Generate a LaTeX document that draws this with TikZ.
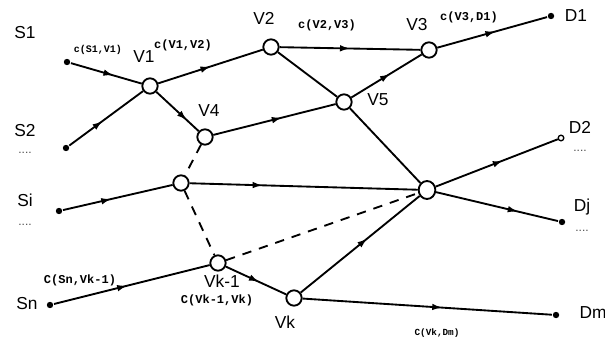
\documentclass[tikz,border=0pt]{standalone}
\usepackage{fontspec}
\setmainfont{Liberation Sans}
\newfontfamily\costfont{Liberation Mono}
\usetikzlibrary{arrows.meta,decorations.markings,shapes.geometric}

\tikzset{every picture/.style={line width=1.4pt}}
\tikzset{
  relay/.style={circle, draw, line width=1.4pt, fill=white, minimum size=11.5pt, inner sep=0pt},
  hub/.style={ellipse, draw, line width=1.4pt, fill=white, inner sep=0pt, minimum width=12.5pt, minimum height=13.5pt},
  term/.style={circle, fill, inner sep=0pt, minimum size=4.8pt},
  openterm/.style={circle, draw, fill=white, line width=1pt, inner sep=0pt, minimum size=4.2pt},
  lbl/.style={inner sep=0.75pt, font=\fontsize{13}{13}\selectfont},
  dots/.style={inner sep=0.75pt, font=\small, text=black!70},
  cost/.style={inner sep=0.75pt, font=\costfont\bfseries\fontsize{#1}{#1}\selectfont},
  cost/.default=8,
  midarrow/.style={postaction={decorate}, decoration={markings,
      mark=at position #1 with {\arrow{Latex[length=7.5pt,width=5pt]}}}},
  midarrow/.default=0.5,
  link/.style={line width=1.4pt},
  dashlink/.style={line width=1.4pt, dashed, dash pattern=on 7pt off 6pt}
}

\begin{document}
\begin{tikzpicture}[x=0.75pt,y=0.75pt,yscale=-1,xscale=1]
\useasboundingbox (0,0) rectangle (605,345);

% Terminals
\node [term] (s1) at (67,62) {};
\node [term] (s2) at (66,148) {};
\node [term] (si) at (59,211) {};
\node [term] (sn) at (50,305) {};
\node [term] (d1) at (551,16) {};
\node [openterm] (d2) at (561,138) {};
\node [term] (dj) at (562,222) {};
\node [term] (dm) at (556,315) {};

% Relays
\node [relay] (v1) at (150,86) {};
\node [relay] (v2) at (271,47) {};
\node [relay] (v4) at (205,137) {};
\node [relay] (v5) at (344,102) {};
\node [relay] (v3) at (429,50) {};
\node [relay] (vi) at (181,183) {};
\node [hub] (vx) at (427,190) {};
\node [relay] (vk1) at (218,263) {};
\node [relay] (vk) at (294,298) {};

% Solid links
\draw [link, midarrow=0.6] (s1) -- (v1);
\draw [link, midarrow=0.45] (s2) -- (v1);
\draw [link, midarrow=0.5] (v1) -- (v2);
\draw [link, midarrow=0.72] (v1) -- (v4);
\draw [link, midarrow=0.5] (v2) -- (v3);
\draw [link] (v2) -- (v5);
\draw [link, midarrow=0.56] (v4) -- (v5);
\draw [link, midarrow=0.55] (v5) -- (v3);
\draw [link, midarrow=0.53] (v3) -- (d1);
\draw [link] (v5) -- (vx);
\draw [link, midarrow=0.44] (si) -- (vi);
\draw [link, midarrow=0.32] (vi) -- (vx);
\draw [link, midarrow=0.55] (vx) -- (d2);
\draw [link, midarrow=0.67] (vx) -- (dj);
\draw [link, midarrow=0.56] (vk) -- (vx);
\draw [link, midarrow=0.56] (vk) -- (dm);
\draw [link, midarrow=0.47] (sn) -- (vk1);
\draw [link, midarrow=0.55] (vk1) -- (vk);

% Dashed links
\draw [dashlink] (v4) -- (vi);
\draw [dashlink] (vi) -- (vk1);
\draw [dashlink] (vk1) -- (vx);

% Text Node
\node [lbl] (ls1) at (25,33) {S1};
\node [lbl] (ls2) at (25,131) {S2};
\node [dots] (ld2) at (25,153) {....};
\node [lbl] (lsi) at (25,200) {Si};
\node [dots] (ldi) at (25,225) {....};
\node [lbl] (lsn) at (27,304) {Sn};
\node [lbl] (ld1) at (576,16) {D1};
\node [lbl] (ld2) at (580,127) {D2};
\node [dots] (ldd2) at (580,151) {....};
\node [lbl] (ldj) at (582,207) {Dj};
\node [dots] (lddj) at (582,231) {....};
\node [lbl] (ldm) at (593,313) {Dm};
\node [lbl] (lv1) at (144,57) {V1};
\node [lbl] (lv2) at (264,18) {V2};
\node [lbl] (lv4) at (209,111) {V4};
\node [lbl] (lv3) at (417,25) {V3};
\node [lbl] (lv5) at (378,100) {V5};
\node [lbl] (lvk1) at (222,281) {Vk-1};
\node [lbl] (lvk) at (285,322) {Vk};

% Cost labels
\node [cost=7.5] (c1) at (98,50) {c(S1,V1)};
\node [cost=9] (c2) at (183,45) {c(V1,V2)};
\node [cost=9] (c3) at (327,25) {c(V2,V3)};
\node [cost=9] (c4) at (469,17) {c(V3,D1)};
\node [cost=9] (c5) at (80,280) {C(Sn,Vk-1)};
\node [cost=9] (c6) at (217,300) {C(Vk-1,Vk)};
\node [cost=7] (c7) at (437,333) {C(Vk,Dm)};

\end{tikzpicture}
\end{document}
